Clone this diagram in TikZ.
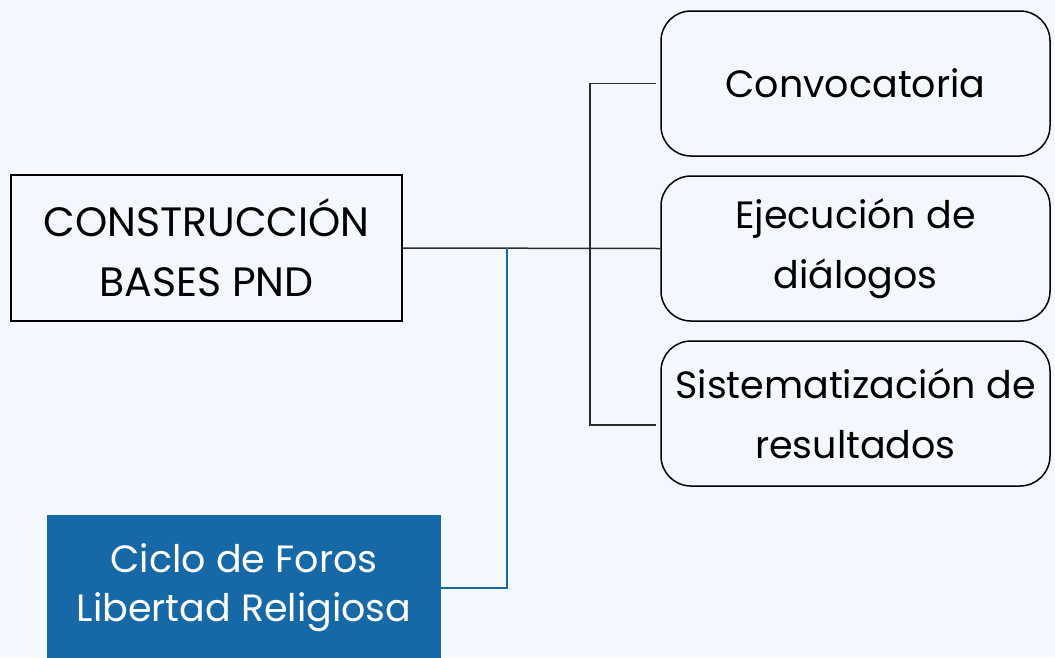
\documentclass[tikz,border=0pt]{standalone}
\usepackage{fontspec}
\setmainfont{Poppins}
\usetikzlibrary{calc}
\definecolor{fondo}{HTML}{F3F8FF}
\definecolor{azulforo}{HTML}{1668A7}
\definecolor{gris}{HTML}{2A2A2A}

\begin{document}
\begin{tikzpicture}[x=1pt,y=-1pt,
	raiz/.style={draw=black,line width=2pt,minimum width=391pt,minimum height=146pt,inner sep=0pt,align=center,font=\fontsize{41}{60}\selectfont},
	etapa/.style={draw=black,line width=1.5pt,rounded corners=30pt,minimum width=389pt,minimum height=145pt,inner sep=0pt,align=center,font=\fontsize{38}{60}\selectfont},
	foro/.style={fill=azulforo,text=white,minimum width=394pt,minimum height=146pt,inner sep=0pt,align=center,font=\fontsize{38}{49}\selectfont},
	rama/.style={draw=gris,line width=1.5pt},
	ramaazul/.style={draw=azulforo,line width=1.5pt}]
	\fill[fondo] (0,0) rectangle (1055,657);
	\useasboundingbox (0,0) rectangle (1055,657);
	
	\node[raiz] (construccion) at (206.5,248) {CONSTRUCCIÓN\\BASES PND};
	\node[etapa] (convocatoria) at (855.5,83.5) {Convocatoria};
	\node[etapa] (ejecucion) at (855.5,248.5) {Ejecución de\\diálogos};
	\node[etapa] (sistematizacion) at (855.5,413.5) {Sistematización de\\resultados};
	\begin{scope}
	\clip (0,0) rectangle (1055,657);
	\node[foro] (ciclo) at (244,588) {Ciclo de Foros\\Libertad Religiosa};
	\end{scope}
	
	\coordinate (bif) at (590,248);
	\coordinate (bifazul) at (507,248);
	\coordinate (llegada) at ($(sistematizacion.west)+(0,11.5)$);
	\draw[rama] (construccion.east) -- (ejecucion.west);
	\draw[rama,shorten <=4pt,shorten >=4pt] (convocatoria.west) -| (bif) |- (llegada);
	\draw[ramaazul] (ciclo.east) -| (bifazul);
\end{tikzpicture}
\end{document}
